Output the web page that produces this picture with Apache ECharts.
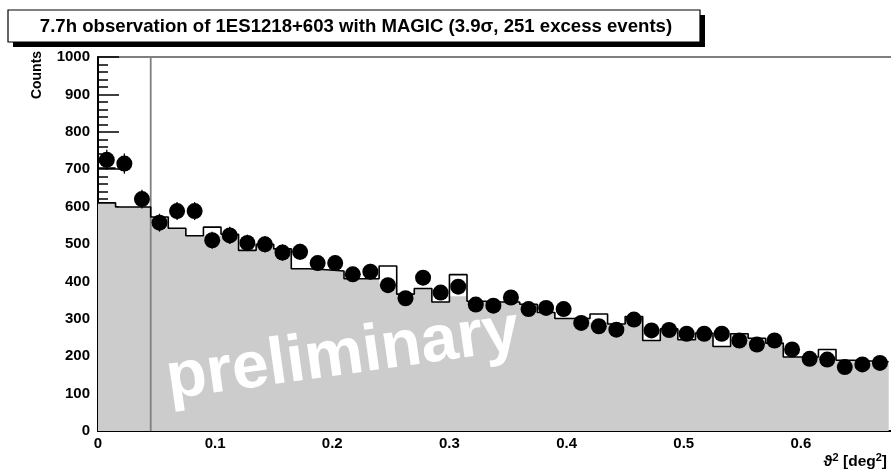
<!DOCTYPE html>
<html><head><meta charset="utf-8">
<script src="https://cdn.jsdelivr.net/npm/echarts@6/dist/echarts.min.js"></script>
<style>html,body{margin:0;padding:0;background:#fff}#c{width:891px;height:472px}</style>
</head><body><div id="c"></div>
<script>
// ---- data (theta^2 histogram, 45 bins of 0.015 deg^2) ----
const thetaSqCenters = [0.0075,0.0225,0.0375,0.0525,0.0675,0.0825,0.0975,0.1125,0.1275,0.1425,
  0.1575,0.1725,0.1875,0.2025,0.2175,0.2325,0.2475,0.2625,0.2775,0.2925,
  0.3075,0.3225,0.3375,0.3525,0.3675,0.3825,0.3975,0.4125,0.4275,0.4425,
  0.4575,0.4725,0.4875,0.5025,0.5175,0.5325,0.5475,0.5625,0.5775,0.5925,
  0.6075,0.6225,0.6375,0.6525,0.6675];
const binWidth = 0.015;
const onCounts = [725,715,620,557,588,588,510,523,503,499,
  477,479,449,449,419,426,390,355,410,370,
  386,338,335,357,326,329,326,289,280,271,
  298,269,270,260,260,260,242,231,242,218,
  193,191,171,178,182];
const onErrors = [27,27,25,24,24,24,23,23,22,22,
  22,22,21,21,20,21,20,19,20,19,
  20,18,18,19,18,18,18,17,17,16,
  17,16,16,16,16,16,16,15,16,15,
  14,14,13,13,13];
const offOutline = [610,599,599,572,542,522,545,526,483,499,
  487,434,431,428,407,407,441,366,381,345,
  418,347,345,345,339,317,301,301,313,286,
  306,242,273,244,262,226,260,248,235,198,
  198,218,189,187,185];
const offFill = [610,599,599,572,542,522,522,526,483,499,
  487,434,431,428,407,407,395,366,381,345,
  360,347,345,345,339,317,301,301,290,286,
  306,242,273,244,262,226,260,248,235,198,
  198,195,189,187,185];
const bin0Marker = 703;
const cutValue = 0.045;
const yTickLabels = ['0','100','200','300','400','500','600','700','800','900','1000'];
const xTickLabels = ['0','0.1','0.2','0.3','0.4','0.5','0.6','0.7'];

// ---- build step data ----
function stepData(vals){
  const d = thetaSqCenters.map((c,i)=>[c-binWidth/2, vals[i]]);
  const last = thetaSqCenters.length-1;
  d.push([thetaSqCenters[last]+binWidth/2, vals[last]]);
  return d;
}
const FONT = 'Liberation Sans, Arial, Helvetica, sans-serif';
const chart = echarts.init(document.getElementById('c'), null, {renderer:'canvas'});
const option = {
  animation:false,
  backgroundColor:'#fff',
  grid:{left:98, top:57, height:374, width:820, containLabel:false, outerBoundsMode:'none',
    show:true, borderColor:'#000', borderWidth:1.2, backgroundColor:'transparent'},
  xAxis:{type:'value', min:0, max:0.7, interval:0.1,
    axisLine:{show:true, onZero:false, lineStyle:{color:'#000', width:2}},
    axisTick:{inside:true, length:20, lineStyle:{color:'#000', width:1.5}},
    minorTick:{show:true, splitNumber:5, length:10, lineStyle:{color:'#000', width:1.5}},
    splitLine:{show:false},
    axisLabel:{fontFamily:FONT, fontWeight:'bold', fontSize:15, color:'#000', margin:5,
      formatter:(v)=>{const i=Math.round(v*10); return xTickLabels[i]!==undefined && Math.abs(v*10-i)<1e-6 ? xTickLabels[i] : '';}}
  },
  yAxis:{type:'value', min:0, max:1000, interval:100,
    axisLine:{show:true, lineStyle:{color:'#000', width:2}},
    axisTick:{inside:true, length:21, lineStyle:{color:'#000', width:1.5}},
    minorTick:{show:true, splitNumber:5, length:10, lineStyle:{color:'#000', width:1.5}},
    splitLine:{show:false},
    axisLabel:{fontFamily:FONT, fontWeight:'bold', fontSize:15, color:'#000', margin:8,
      formatter:(v)=>yTickLabels[Math.round(v/100)]}
  },
  series:[
    {type:'line', name:'offFill', step:'end', data:stepData(offFill), showSymbol:false, symbol:'none',
     lineStyle:{width:0, opacity:0}, areaStyle:{color:'#cccccc', opacity:1, origin:'start'}, z:1, silent:true},
    {type:'line', name:'offOutline', step:'end', data:stepData(offOutline), symbol:'none',
     lineStyle:{color:'#000', width:1.6}, z:4, silent:true},
    {type:'line', name:'bin0', data:[[thetaSqCenters[0]-binWidth/2, bin0Marker],[thetaSqCenters[0]+binWidth/2, bin0Marker]], symbol:'none',
     lineStyle:{color:'#000', width:1.6}, z:4, silent:true},
    {type:'line', name:'cut', data:[[cutValue,0],[cutValue,1000]], symbol:'none',
     lineStyle:{color:'#808080', width:1.8}, z:3, silent:true},
    {type:'custom', name:'err', data:thetaSqCenters.map((c,i)=>[c,onCounts[i],onErrors[i]]), z:5,
     renderItem:(params, api)=>{
       const x=api.value(0), y=api.value(1), e=api.value(2);
       const p1=api.coord([x,y-e]), p2=api.coord([x,y+e]);
       return {type:'line', shape:{x1:p1[0],y1:p1[1],x2:p2[0],y2:p2[1]}, style:{stroke:'#000', lineWidth:1.3}};
     }},
    {type:'scatter', name:'on', data:thetaSqCenters.map((c,i)=>[c,onCounts[i]]), symbol:'circle', symbolSize:16,
     itemStyle:{color:'#000', opacity:1}, z:6, silent:true}
  ],
  graphic:[
    {type:'text', z:3, x:343, y:356, rotation:0.14,
     style:{text:'preliminary', fill:'#ffffff', font:'bold 66px '+FONT, align:'center', verticalAlign:'middle'}},
    {type:'rect', z:10, shape:{x:13,y:15,width:692,height:32}, style:{fill:'#000'}},
    {type:'rect', z:11, shape:{x:8,y:10,width:692,height:32}, style:{fill:'#fff', stroke:'#000', lineWidth:1.2}},
    {type:'text', z:12, x:356, y:26.5,
     style:{text:'7.7h observation of 1ES1218+603 with MAGIC (3.9σ, 251 excess events)', fill:'#000', font:'bold 18.6px '+FONT, align:'center', verticalAlign:'middle'}},
    {type:'text', z:12, x:37, y:75, rotation:Math.PI/2,
     style:{text:'Counts', fill:'#000', font:'bold 14px '+FONT, align:'center', verticalAlign:'middle'}},
    {type:'text', z:12, x:887, y:462,
     style:{text:'ϑ{s|2} [deg{s|2}]', fill:'#000', font:'bold 15.5px '+FONT, align:'right', verticalAlign:'middle',
       rich:{s:{font:'bold 11px '+FONT, verticalAlign:'top', padding:[0,0,8,0]}}}}
  ]
};
chart.setOption(option);
</script></body></html>
